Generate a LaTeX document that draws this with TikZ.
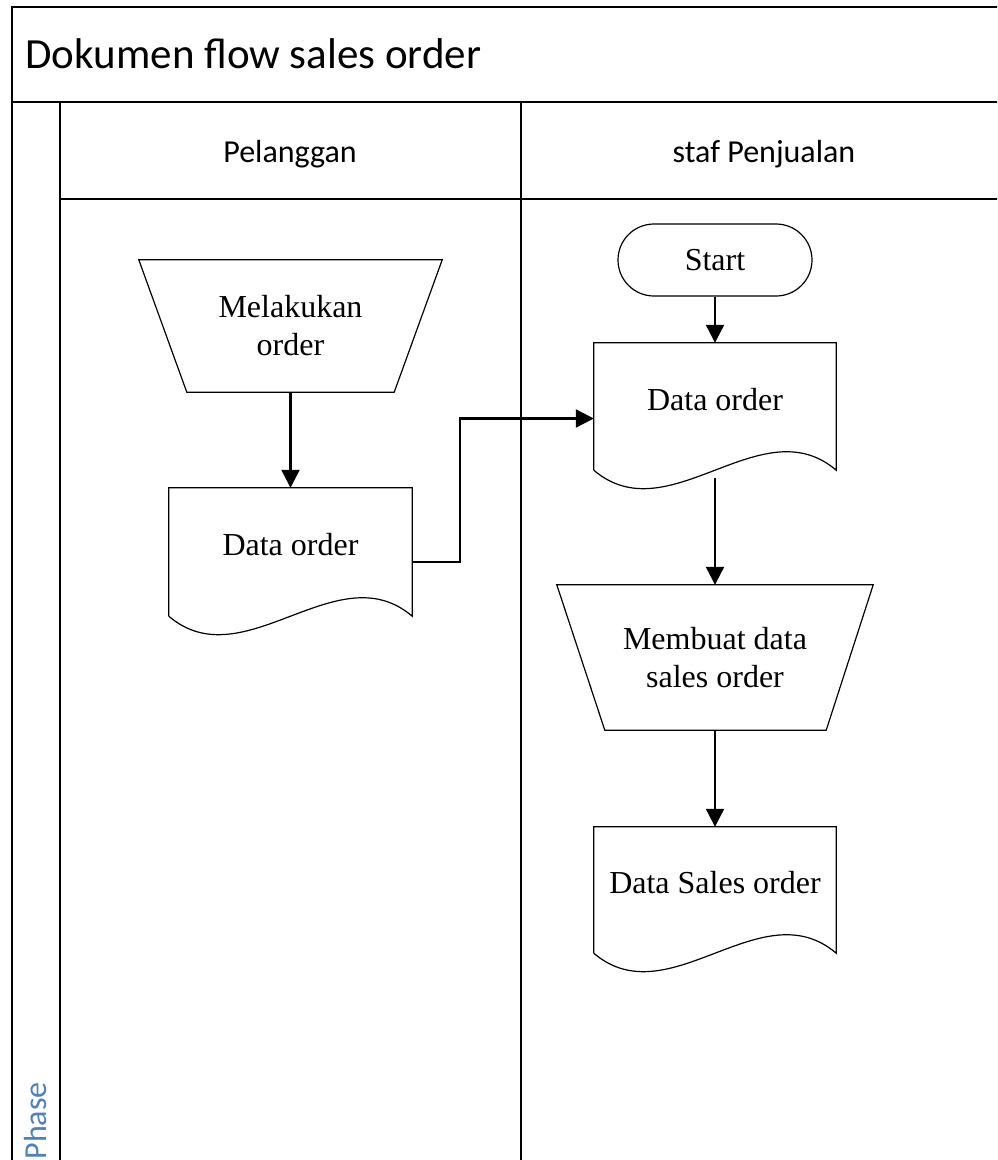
\documentclass[tikz,border=0pt]{standalone}
\usepackage{fontspec}
\setmainfont{Liberation Serif}
\newfontfamily\calibri{Carlito}
\usetikzlibrary{arrows.meta}
\definecolor{phaseblue}{HTML}{4F81BD}
\begin{document}
\begin{tikzpicture}[x=1pt,y=-1pt,
    lane/.style={line width=1.6pt},
    outline/.style={line width=1.2pt},
    flow/.style={line width=2.2pt,-{Triangle[length=18pt,width=18pt]}},
    box/.style={inner sep=0pt,align=center,font=\fontsize{32}{38}\selectfont},
    doc/.style={box,text height=22pt,text depth=15pt},
    head/.style={font=\calibri\fontsize{32}{36}\selectfont}]
  \useasboundingbox (0,0) rectangle (997,1160);
  \clip (0,0) rectangle (997,1160);
  % pool and lanes
  \draw[lane] (1010,7) -- (12,7) -- (12,1170);
  \draw[lane] (12,102) -- (1010,102);
  \draw[lane] (60,102) -- (60,1170);
  \draw[lane] (60,199) -- (1010,199);
  \draw[lane] (521,102) -- (521,1170);
  \node[head,font=\calibri\fontsize{43}{48}\selectfont,anchor=base west] (title) at (22,68) {Dokumen flow sales order};
  \node[head,anchor=base] (lane1) at (290,162) {Pelanggan};
  \node[head,anchor=base] (lane2) at (764,162) {staf Penjualan};
  \node[head,text=phaseblue,rotate=90,anchor=base west] (phase) at (46,1163) {Phase};
  % nodes
  \node[box,minimum width=303pt,minimum height=132pt] (m1) at (290.5,326) {Melakukan\\order};
  \node[doc,minimum width=243pt,minimum height=128pt] (d1) at (290.5,552) {Data order};
  \node[box,draw,outline,rounded corners=36pt,minimum width=194pt,minimum height=72pt] (start) at (715,260) {Start};
  \node[doc,minimum width=242pt,minimum height=127pt] (d2) at (715,406.5) {Data order};
  \node[box,minimum width=316pt,minimum height=145pt] (m2) at (715,657.5) {Membuat data\\sales order};
  \node[doc,minimum width=242pt,minimum height=126pt] (d3) at (715,890) {Data Sales order};
  % outlines
  \draw[outline] (m1.north west) -- (m1.north east) -- ([xshift=-48pt]m1.south east) -- ([xshift=48pt]m1.south west) -- cycle;
  \draw[outline] (m2.north west) -- (m2.north east) -- ([xshift=-47pt]m2.south east) -- ([xshift=48pt]m2.south west) -- cycle;
  \draw[outline] (d1.south west) -- (d1.north west) -- (d1.north east) -- (d1.south east) .. controls +(-75,-64) and +(75,64) .. (d1.south west);
  \draw[outline] (d2.south west) -- (d2.north west) -- (d2.north east) -- (d2.south east) .. controls +(-75,-64) and +(75,64) .. (d2.south west);
  \draw[outline] (d3.south west) -- (d3.north west) -- (d3.north east) -- (d3.south east) .. controls +(-75,-64) and +(75,64) .. (d3.south west);
  % connectors
  \begin{scope}[flow]
    \draw (m1.south) -- (d1.north);
    \draw ([yshift=-10pt]d1.east) -- ++(48,0) |- ([yshift=-12pt]d2.west);
    \draw (start.south) -- (d2.north);
    \draw ([yshift=-8pt]d2.south) -- (m2.north);
    \draw (m2.south) -- (d3.north);
  \end{scope}
\end{tikzpicture}
\end{document}
